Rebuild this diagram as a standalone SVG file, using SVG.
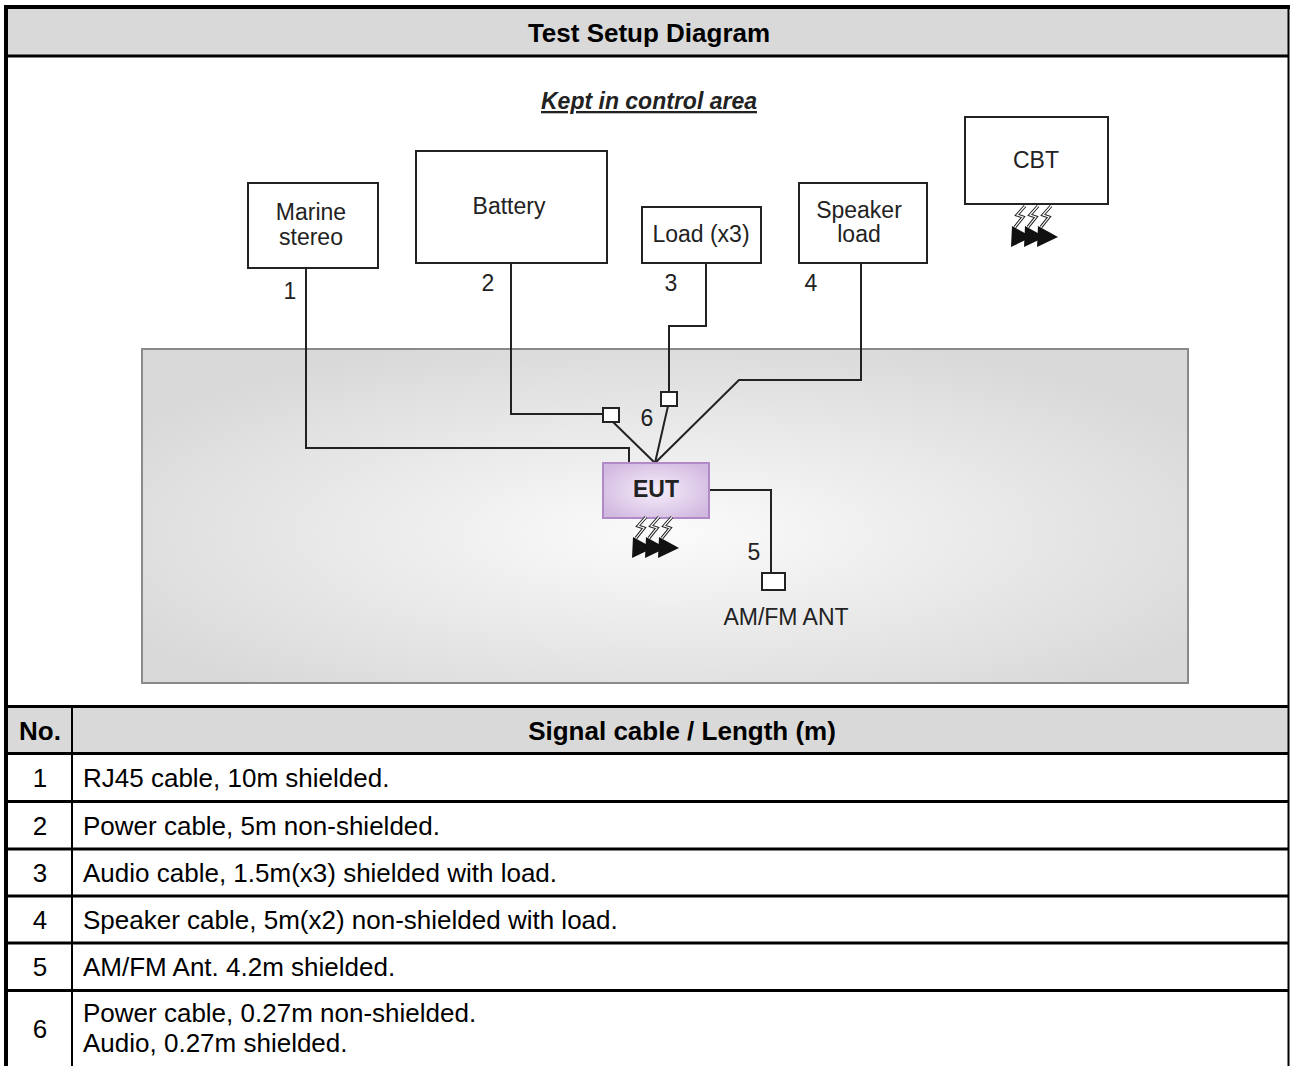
<svg xmlns="http://www.w3.org/2000/svg" width="1290" height="1066" viewBox="0 0 1290 1066">
<defs>
<radialGradient id="areaGrad" cx="0.5" cy="0.55" r="0.6">
<stop offset="0" stop-color="#fbfbfb"/>
<stop offset="1" stop-color="#d9d9d9"/>
</radialGradient>
<radialGradient id="eutGrad" cx="0.5" cy="0.5" r="0.6">
<stop offset="0" stop-color="#f6eefa"/>
<stop offset="1" stop-color="#d2b9e0"/>
</radialGradient>
<g id="radiate">
<g fill="none" stroke-linejoin="miter">
<polyline points="14,0 6,9 12,11 4,21" stroke="#222" stroke-width="3.2"/>
<polyline points="14,0 6,9 12,11 4,21" stroke="#fff" stroke-width="1.2"/>
<polyline points="27,0 19,9 25,11 17,21" stroke="#222" stroke-width="3.2"/>
<polyline points="27,0 19,9 25,11 17,21" stroke="#fff" stroke-width="1.2"/>
<polyline points="40,0 32,9 38,11 30,21" stroke="#222" stroke-width="3.2"/>
<polyline points="40,0 32,9 38,11 30,21" stroke="#fff" stroke-width="1.2"/>
</g>
<g fill="#111">
<polygon points="1,20 21,31 0,41"/>
<polygon points="14,20 34,31 13,41"/>
<polygon points="27,20 47,31 26,41"/>
</g>
</g>
</defs>
<style>
.tbl{font-family:"Liberation Sans",Arial,sans-serif;font-size:26px;fill:#000}
.b{font-weight:bold}
.dg{font-family:"Liberation Sans",Arial,sans-serif;font-size:23px;fill:#222}
.box{fill:#fff;stroke:#222;stroke-width:2}
.sq{fill:#fff;stroke:#222;stroke-width:2}
.cable{fill:none;stroke:#222;stroke-width:2}
.rule{stroke:#000;stroke-width:3}
</style>
<rect width="1290" height="1066" fill="#fff"/>

<g id="table">
<rect x="8" y="9" width="1280" height="46" fill="#d9d9d9"/>
<rect x="8" y="708" width="1280" height="45" fill="#d9d9d9"/>
<line x1="6" y1="7" x2="1290" y2="7" stroke="#000" stroke-width="4"/>
<line x1="6" y1="5" x2="6" y2="1066" stroke="#000" stroke-width="4"/>
<line x1="1288.5" y1="9" x2="1288.5" y2="1066" stroke="#000" stroke-width="2"/>
<line class="rule" x1="8" y1="56" x2="1288" y2="56"/>
<line class="rule" x1="8" y1="706.5" x2="1288" y2="706.5"/>
<line class="rule" x1="8" y1="753.5" x2="1288" y2="753.5"/>
<line class="rule" x1="8" y1="801.5" x2="1288" y2="801.5"/>
<line class="rule" x1="8" y1="849" x2="1288" y2="849"/>
<line class="rule" x1="8" y1="896" x2="1288" y2="896"/>
<line class="rule" x1="8" y1="943" x2="1288" y2="943"/>
<line class="rule" x1="8" y1="990.5" x2="1288" y2="990.5"/>
<line x1="72" y1="708" x2="72" y2="1066" stroke="#000" stroke-width="2"/>
<text class="tbl b" x="649" y="42" text-anchor="middle">Test Setup Diagram</text>
<text class="tbl b" x="40" y="740" text-anchor="middle">No.</text>
<text class="tbl b" x="682" y="740" text-anchor="middle">Signal cable / Length (m)</text>
<text class="tbl" x="40" y="787" text-anchor="middle">1</text>
<text class="tbl" x="83" y="787">RJ45 cable, 10m shielded.</text>
<text class="tbl" x="40" y="835" text-anchor="middle">2</text>
<text class="tbl" x="83" y="835">Power cable, 5m non-shielded.</text>
<text class="tbl" x="40" y="882" text-anchor="middle">3</text>
<text class="tbl" x="83" y="882">Audio cable, 1.5m(x3) shielded with load.</text>
<text class="tbl" x="40" y="929" text-anchor="middle">4</text>
<text class="tbl" x="83" y="929">Speaker cable, 5m(x2) non-shielded with load.</text>
<text class="tbl" x="40" y="976" text-anchor="middle">5</text>
<text class="tbl" x="83" y="976">AM/FM Ant. 4.2m shielded.</text>
<text class="tbl" x="40" y="1038" text-anchor="middle">6</text>
<text class="tbl" x="83" y="1022">Power cable, 0.27m non-shielded.</text>
<text class="tbl" x="83" y="1052">Audio, 0.27m shielded.</text>
</g>

<g id="control-area">
<rect x="142" y="349" width="1046" height="334" fill="url(#areaGrad)" stroke="#8a8a8a" stroke-width="2"/>
</g>

<g id="caption">
<text class="dg" x="649" y="109" text-anchor="middle" font-weight="bold" font-style="italic" text-decoration="underline" fill="#333" font-size="24">Kept in control area</text>
</g>

<g id="connectors">
<polyline class="cable" points="306,268 306,448 629,448 629,463"/>
<polyline class="cable" points="511,263 511,414 603,414"/>
<line class="cable" x1="613" y1="422" x2="655" y2="463"/>
<polyline class="cable" points="706,263 706,326 669,326 669,392"/>
<line class="cable" x1="668" y1="406" x2="655" y2="463"/>
<polyline class="cable" points="861,263 861,380 739,380 655,463"/>
<polyline class="cable" points="709,490 771,490 771,573"/>
<rect class="sq" x="603" y="408" width="16" height="14"/>
<rect class="sq" x="661" y="392" width="16" height="14"/>
<rect class="sq" x="762" y="573" width="23" height="17"/>
<text class="dg" x="290" y="299" text-anchor="middle">1</text>
<text class="dg" x="488" y="291" text-anchor="middle">2</text>
<text class="dg" x="671" y="291" text-anchor="middle">3</text>
<text class="dg" x="811" y="291" text-anchor="middle">4</text>
<text class="dg" x="647" y="426" text-anchor="middle">6</text>
<text class="dg" x="754" y="560" text-anchor="middle">5</text>
<text class="dg" x="786" y="625" text-anchor="middle">AM/FM ANT</text>
</g>

<g id="marine-stereo">
<rect class="box" x="248" y="183" width="130" height="85"/>
<text class="dg" x="311" y="220" text-anchor="middle">Marine</text>
<text class="dg" x="311" y="245" text-anchor="middle">stereo</text>
</g>

<g id="battery">
<rect class="box" x="416" y="151" width="191" height="112"/>
<text class="dg" x="509" y="214" text-anchor="middle">Battery</text>
</g>

<g id="load">
<rect class="box" x="642" y="207" width="119" height="56"/>
<text class="dg" x="701" y="242" text-anchor="middle">Load (x3)</text>
</g>

<g id="speaker-load">
<rect class="box" x="799" y="183" width="128" height="80"/>
<text class="dg" x="859" y="218" text-anchor="middle">Speaker</text>
<text class="dg" x="859" y="242" text-anchor="middle">load</text>
</g>

<g id="cbt">
<rect class="box" x="965" y="117" width="143" height="87"/>
<text class="dg" x="1036" y="168" text-anchor="middle">CBT</text>
<use href="#radiate" x="1011" y="206"/>
</g>

<g id="eut">
<rect x="603" y="463" width="106" height="55" fill="url(#eutGrad)" stroke="#b08ac8" stroke-width="2"/>
<text class="dg" x="656" y="497" text-anchor="middle" font-weight="bold">EUT</text>
<use href="#radiate" x="632" y="517"/>
</g>
</svg>
